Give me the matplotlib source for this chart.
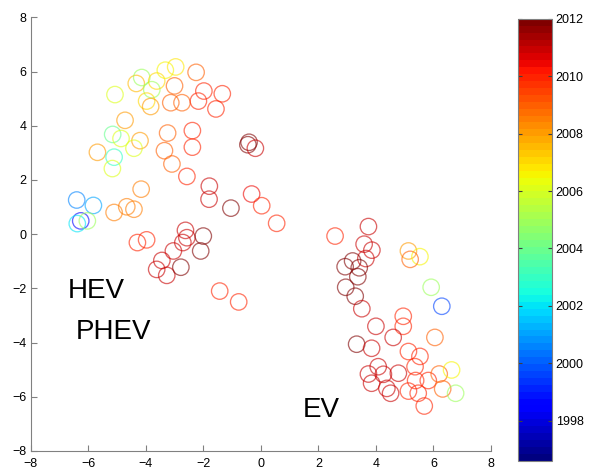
import matplotlib
matplotlib.use('Agg')
import matplotlib.pyplot as plt
import numpy as np

plt.rcParams['font.family'] = ['Liberation Sans', 'DejaVu Sans']

# point coordinates and model year
x = [-5.07, -4.33, -4.14, -3.79, -3.97, -3.83, -3.62, -3.32, -2.96, -2.25,
     -3.00, -3.13, -2.74, -2.17, -1.98, -1.34, -1.56, -4.72, -5.15, -4.86,
     -4.20, -4.41, -5.68, -5.10, -5.16, -3.24, -2.38, -3.35, -2.38, -3.09,
     -2.57,
     -0.41, -0.45, -0.19, -1.79, -1.80, -1.04, -0.32, 0.03, 0.55, -1.43, -0.77,
     -6.40, -5.82, -6.26, -6.38, -6.03, -4.16, -5.10, -4.66, -4.41, -4.29,
     -3.97, -2.62, -2.57, -2.71, -3.04, -2.00, -2.09, -3.44, -3.62, -3.27,
     -2.78,
     2.58, 3.74, 3.59, 3.86, 3.65, 3.19, 2.93, 3.42, 3.37, 2.95, 3.28, 3.51,
     5.13, 5.53, 5.19, 5.92, 6.29, 4.00, 4.95, 4.95, 6.05, 4.60, 3.33, 3.85,
     5.13, 5.53, 5.36, 4.08, 3.74, 4.26, 4.78, 5.38, 5.82, 6.20, 6.63, 6.32,
     6.77, 3.85, 4.38, 4.51, 5.13, 5.47, 5.68]
y = [5.15, 5.56, 5.78, 5.33, 4.91, 4.71, 5.65, 6.05, 6.17, 5.97,
     5.47, 4.85, 4.85, 4.91, 5.28, 5.18, 4.62, 4.20, 3.68, 3.53,
     3.45, 3.17, 3.02, 2.84, 2.42, 3.73, 3.82, 3.08, 3.21, 2.59,
     2.13,
     3.39, 3.30, 3.17, 1.77, 1.29, 0.96, 1.48, 1.05, 0.40, -2.10, -2.50,
     1.26, 1.06, 0.49, 0.39, 0.49, 1.66, 0.80, 1.01, 0.92, -0.31,
     -0.21, 0.14, -0.13, -0.31, -0.62, -0.07, -0.62, -0.97, -1.30, -1.52,
     -1.22,
     -0.07, 0.28, -0.37, -0.59, -0.90, -0.99, -1.20, -1.24, -1.57, -1.96, -2.29, -2.75,
     -0.62, -0.83, -0.93, -1.96, -2.66, -3.40, -3.03, -3.40, -3.81, -3.81, -4.06, -4.21,
     -4.33, -4.51, -4.89, -4.89, -5.16, -5.17, -5.13, -5.40, -5.40, -5.16, -5.01, -5.71,
     -5.87, -5.50, -5.69, -5.87, -5.79, -5.87, -6.34]
year = [2006, 2007.5, 2005, 2005, 2007, 2008, 2007, 2006.5, 2006.8, 2009,
        2009, 2009, 2009, 2010, 2010, 2010, 2010, 2008, 2004, 2006,
        2008, 2006, 2008, 2003, 2006, 2009, 2010, 2009, 2010, 2009,
        2010,
        2012, 2012, 2011, 2011, 2011, 2012, 2010.5, 2010, 2010, 2010, 2010,
        2000.5, 2001, 1998.5, 2002, 2005, 2008.5, 2008.5, 2008.5, 2008.5, 2010,
        2010, 2011, 2011, 2011, 2011, 2012, 2012, 2011, 2011, 2011,
        2012,
        2010, 2011, 2011, 2011, 2011, 2012, 2012, 2012, 2012, 2012, 2012, 2011,
        2008, 2006.5, 2009, 2005, 1999.5, 2011, 2010, 2010, 2009, 2011, 2012, 2011,
        2010, 2010, 2010, 2011, 2011, 2011, 2011, 2010, 2010, 2009, 2006.5, 2009,
        2005, 2011, 2011, 2011, 2010, 2010, 2010]

labels = ['HEV', 'PHEV', 'EV']
label_x = [-6.7, -6.42, 1.47]
label_y = [-2.35, -3.85, -6.74]

year_min, year_max = 1996.6, 2012
cmap = plt.get_cmap('jet', 64)
norm = matplotlib.colors.Normalize(vmin=year_min, vmax=year_max)

fig = plt.figure(figsize=(6.11, 4.72), dpi=100)
ax = fig.add_axes([0.0502, 0.0445, 0.7534, 0.9188])

ax.scatter(x, y, s=140, facecolors='none', edgecolors=cmap(norm(np.array(year))),
           linewidths=0.95, alpha=0.6)

for t, tx, ty in zip(labels, label_x, label_y):
    ax.text(tx, ty, t, fontsize=20, ha='left', va='baseline')

ax.set_xlim(-8, 8)
ax.set_ylim(-8, 8)
ax.set_xticks(np.arange(-8, 9, 2))
ax.set_yticks(np.arange(-8, 9, 2))
ax.spines['top'].set_visible(False)
ax.spines['right'].set_visible(False)
for s in ['left', 'bottom']:
    ax.spines[s].set_color('#808080')
    ax.spines[s].set_linewidth(0.8)
ax.tick_params(direction='in', length=4, labelsize=9, color='#808080')
ax.tick_params(axis='x', pad=5)
ax.tick_params(axis='y', pad=3)

cax = fig.add_axes([0.848, 0.024, 0.0547, 0.936])
sm = matplotlib.cm.ScalarMappable(norm=norm, cmap=cmap)
cb = fig.colorbar(sm, cax=cax, ticks=np.arange(1998, 2013, 2))
cb.outline.set_edgecolor('#808080')
cb.outline.set_linewidth(0.8)
cax.tick_params(direction='in', length=3, labelsize=9, color='#404040', left=True, pad=3)

fig.savefig('out.png', dpi=100)
